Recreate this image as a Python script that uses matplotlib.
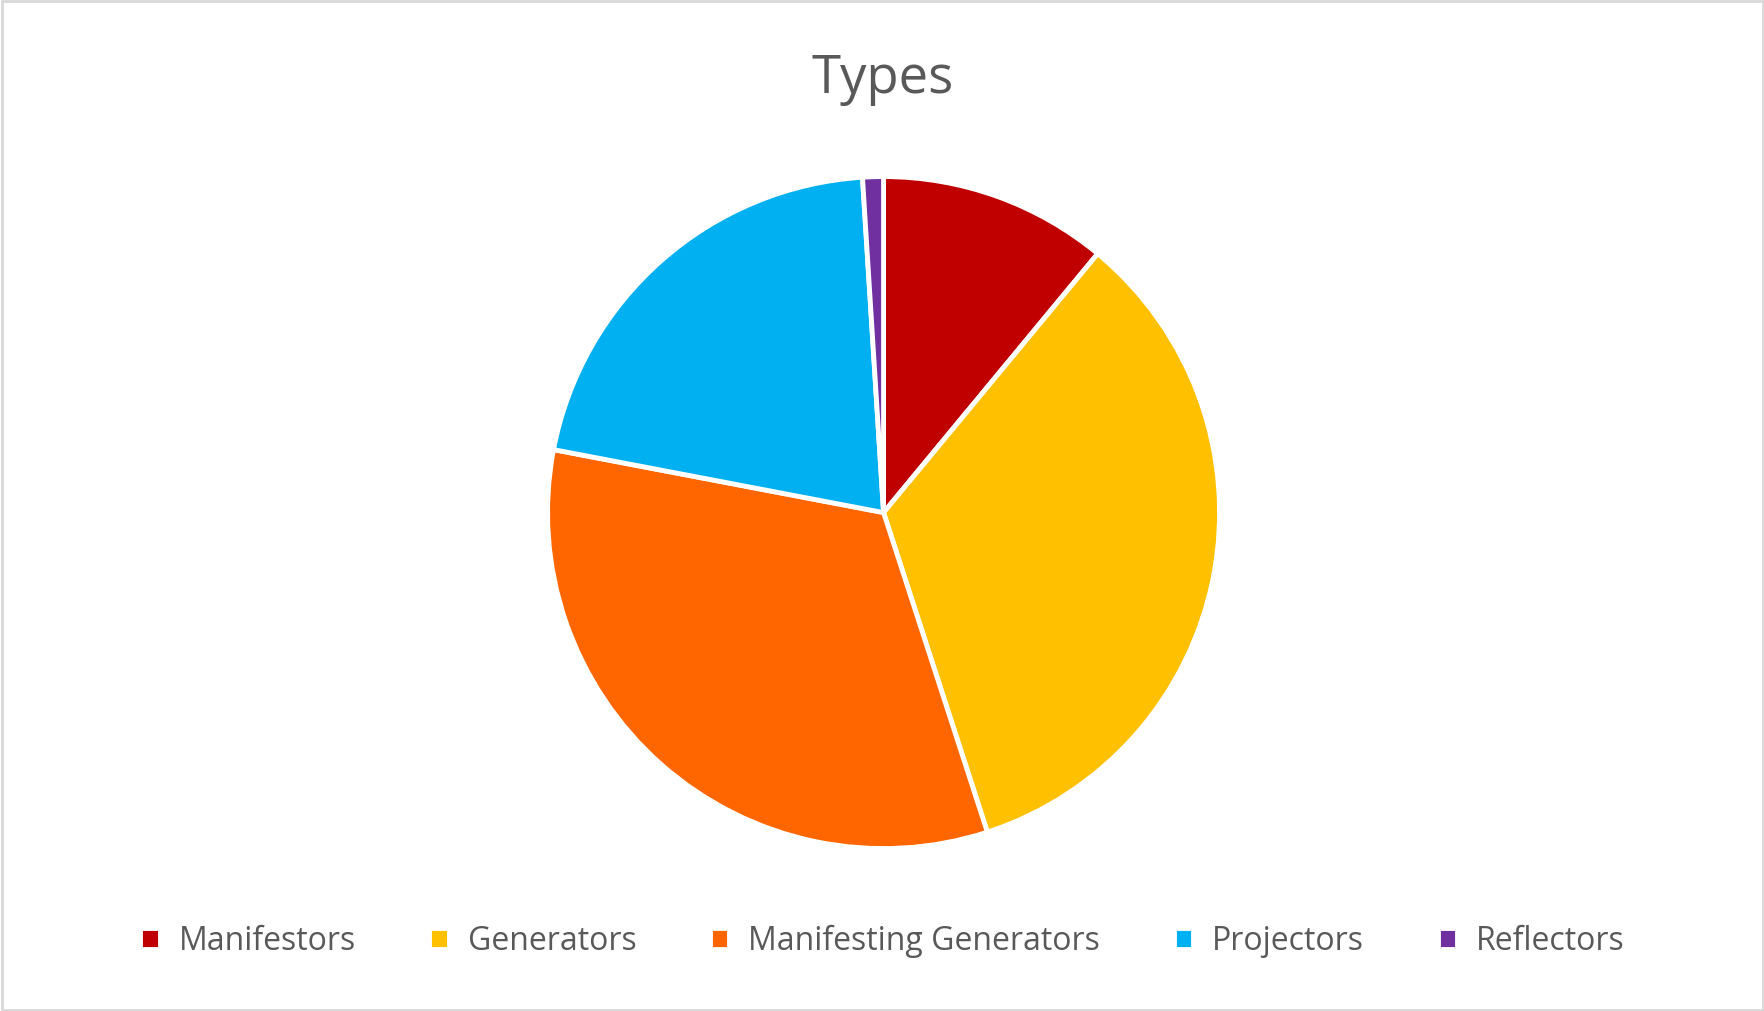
import matplotlib.pyplot as plt
from matplotlib.patches import Rectangle

# Data
labels = ["Manifestors", "Generators", "Manifesting Generators", "Projectors", "Reflectors"]
shares = [11, 34, 33, 21, 1]
colors = ["#C00000", "#FFC000", "#FF6600", "#00B0F0", "#7030A0"]

plt.rcParams["font.family"] = ["Open Sans", "DejaVu Sans"]

fig = plt.figure(figsize=(17.65, 10.11), dpi=100)
fig.patches.append(Rectangle((0.001, 0.001), 0.998, 0.998, transform=fig.transFigure,
                             fill=False, edgecolor="#D9D9D9", linewidth=2))

# Pie
radius_h = 0.668
ax = fig.add_axes([0.5006 - radius_h * 1011 / 1765 / 2, 0.493 - radius_h / 2,
                   radius_h * 1011 / 1765, radius_h])
wedges, _ = ax.pie(shares, colors=colors, startangle=90, counterclock=False,
                   wedgeprops=dict(edgecolor="white", linewidth=3.5))
ax.set_xlim(-1.005, 1.005)
ax.set_ylim(-1.005, 1.005)
ax.set_aspect("equal")

fig.text(0.5, 0.922, "Types", ha="center", va="center", fontsize=38, color="#595959")

leg = fig.legend(wedges, labels, loc="center", bbox_to_anchor=(0.5, 0.069), ncol=5,
                 frameon=False, fontsize=23, handlelength=0.6, handleheight=0.6,
                 handletextpad=0.6, columnspacing=2.3, labelcolor="#595959")

fig.savefig("out.png", dpi=100)
plt.close(fig)
